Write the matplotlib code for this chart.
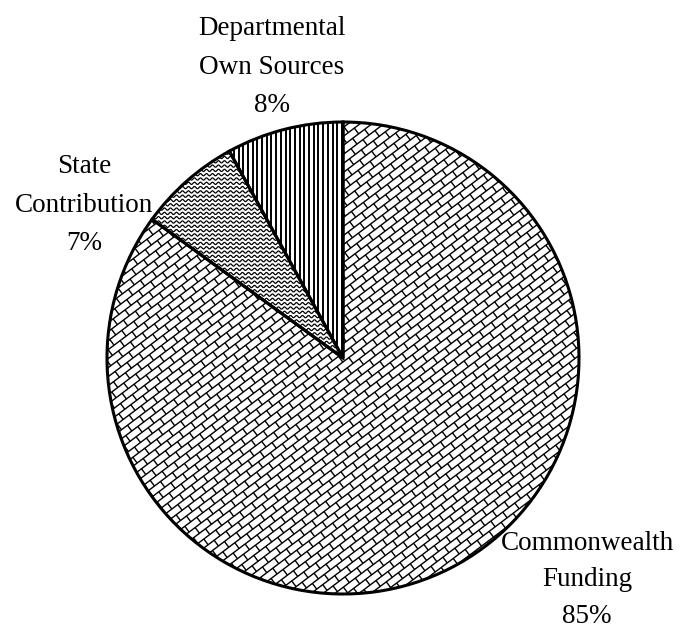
import numpy as np
import matplotlib
matplotlib.use("Agg")
import matplotlib.pyplot as plt
from matplotlib.collections import LineCollection

label_lines = [["Departmental", "Own Sources"], ["State", "Contribution"], ["Commonwealth", "Funding"]]
shares = [8, 7, 85]

plt.rcParams['font.family'] = ['Liberation Serif', 'DejaVu Serif']

W, H = 680, 629
R_PX = 236.0
CX, CY = 343.0, 358.0

fig = plt.figure(figsize=(W / 100, H / 100), dpi=100)
ax = fig.add_axes([0, 0, 1, 1])

wedges, _ = ax.pie(shares, startangle=90, counterclock=True, radius=1.0,
                   colors=['white'] * 3,
                   wedgeprops=dict(edgecolor='black', linewidth=2.2))

ax.set_xlim(-CX / R_PX, (W - CX) / R_PX)
ax.set_ylim(-(H - CY) / R_PX, CY / R_PX)
ax.set_aspect('auto')
ax.axis('off')

px = 1.0 / R_PX  # one pixel in data units
ext = 1.1


def vertical_lines(spacing):
    xs = np.arange(-ext, ext, spacing)
    return [[(x, -ext), (x, ext)] for x in xs]


def waves(spacing, amp, wavelength):
    xs = np.linspace(-ext, ext, 1500)
    segs = []
    for y0 in np.arange(-ext, ext, spacing):
        ys = y0 + amp * np.sin(2 * np.pi * xs / wavelength)
        segs.append(np.column_stack([xs, ys]))
    return segs


def bricks(row, length, angle_deg):
    t = np.deg2rad(angle_deg)
    u_hat = np.array([np.cos(t), np.sin(t)])
    v_hat = np.array([-np.sin(t), np.cos(t)])
    big = 1.6
    segs = []
    vs = np.arange(-big, big, row)
    for i, v in enumerate(vs):
        p0 = -big * u_hat + v * v_hat
        p1 = big * u_hat + v * v_hat
        segs.append([tuple(p0), tuple(p1)])
        off = (i % 2) * length / 2
        for u in np.arange(-big + off, big, length):
            a = u * u_hat + v * v_hat
            b = u * u_hat + (v + row) * v_hat
            segs.append([tuple(a), tuple(b)])
    return segs


patterns = [
    (vertical_lines(4.7 * px), 1.4),
    (waves(4.3 * px, 1.1 * px, 6.0 * px), 0.9),
    (bricks(7.2 * px, 15.0 * px, 37), 1.0),
]

for wedge, (segs, lw) in zip(wedges, patterns):
    lc = LineCollection(segs, colors='black', linewidths=lw, zorder=1.5)
    ax.add_collection(lc)
    lc.set_clip_path(wedge)
    wedge.set_zorder(2)
    wedge.set_facecolor('none')


def to_data(xp, yp):
    return (xp - CX) / R_PX, (CY - yp) / R_PX


# label anchor: centre x, baseline of the first line, line step (pixels)
label_anchor = [(272, 35, 38.5), (84, 173, 38.5), (587, 550, 36.5)]
for lines, val, (xp, yp, step) in zip(label_lines, shares, label_anchor):
    for k, txt in enumerate(lines + [f"{val}%"]):
        x, y = to_data(xp, yp + k * step)
        ax.text(x, y, txt, ha='center', va='baseline', fontsize=19.5)

fig.savefig("out.png", dpi=100)
